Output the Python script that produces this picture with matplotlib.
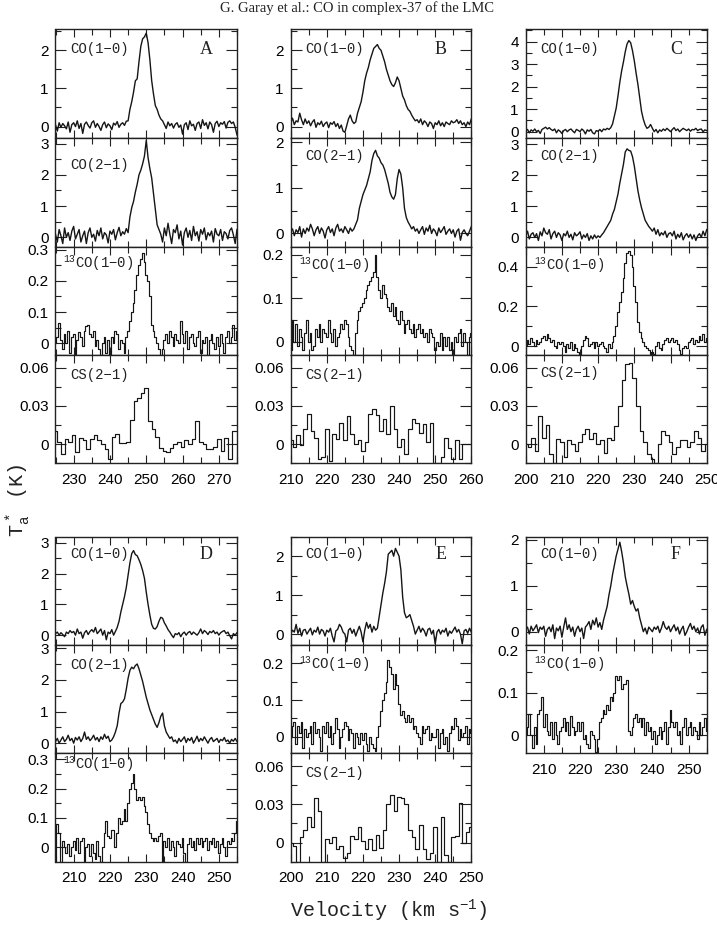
import numpy as np
import matplotlib
matplotlib.use("Agg")
import matplotlib.pyplot as plt
from matplotlib.ticker import MultipleLocator, FuncFormatter

plt.rcParams['font.family'] = ['Liberation Sans', 'DejaVu Sans']
plt.rcParams['mathtext.default'] = 'regular'

# ---------------- data (T_a* in K, channels of fixed width) ----------------
# Source A  (v from 225 km/s)
a_co10 = [0.05, -0.12, 0.10, -0.02, 0.08, 0.02, -0.06, 0.12, -0.15, 0.05,
          0.10, 0.00, 0.15, -0.05, 0.08, -0.18, 0.06, 0.12, 0.03, -0.04,
          0.10, 0.15, -0.02, 0.08, 0.00, -0.10, 0.05, 0.12, -0.03, 0.07,
          0.02, -0.08, 0.09, 0.04, 0.13, -0.02, 0.06, 0.10, 0.03, 0.14,
          0.15, 0.45, 0.65, 0.90, 1.20, 1.25, 1.70, 2.10, 2.30, 2.35,
          2.45, 2.20, 1.75, 1.20, 0.85, 0.55, 0.45, 0.30, 0.20, 0.15,
          0.05, -0.05, 0.12, 0.02, 0.08, -0.04, 0.06, 0.10, -0.02, 0.04,
          -0.20, 0.05, 0.10, -0.08, 0.15, 0.02, 0.06, -0.10, 0.08, 0.12,
          -0.05, 0.18, 0.03, 0.10, -0.06, 0.12, 0.05, -0.15, 0.08, 0.14,
          0.00, 0.10, 0.06, 0.13, -0.04, 0.11, 0.15, 0.08, 0.12, -0.02, -0.22]
a_co21 = [0.10, -0.15, 0.25, 0.05, -0.20, 0.30, 0.00, 0.15, -0.10, 0.20,
          0.35, -0.05, 0.10, 0.25, -0.15, 0.05, 0.20, -0.20, 0.15, 0.30,
          0.00, 0.10, -0.12, 0.22, 0.05, 0.30, -0.05, 0.15, 0.08, -0.18,
          0.20, 0.10, 0.25, -0.08, 0.15, 0.32, 0.05, 0.18, 0.10, 0.28,
          0.15, 0.65, 0.95, 1.15, 1.45, 1.70, 2.00, 2.15, 2.35, 2.60,
          3.10, 2.55, 2.20, 1.90, 1.40, 0.90, 0.40, 0.25, 0.10, -0.15,
          0.30, 0.05, 0.45, 0.10, -0.20, 0.25, 0.15, 0.40, -0.05, 0.20,
          -0.25, 0.15, 0.30, 0.00, 0.22, -0.10, 0.35, 0.05, 0.18, -0.12,
          0.25, 0.10, 0.30, -0.08, 0.15, 0.05, 0.20, -0.15, 0.28, 0.10,
          0.05, 0.25, -0.10, 0.18, 0.12, -0.05, 0.22, 0.30, 0.08, -0.20, 0.25]
a_13co = [0.00, 0.02, 0.065, 0.01, -0.02, 0.03, 0.00, 0.04, -0.03, 0.02,
          0.03, -0.04, 0.01, 0.035, 0.02, -0.01, 0.04, 0.055, 0.06, 0.03,
          0.02, 0.04, -0.01, 0.01, -0.02, -0.04, 0.00, 0.02, -0.03, 0.01,
          -0.04, 0.02, 0.00, 0.04, 0.03, -0.02, 0.01, 0.00, -0.03, 0.02,
          0.04, 0.07, 0.10, 0.13, 0.17, 0.22, 0.25, 0.27, 0.29, 0.26,
          0.22, 0.20, 0.15, 0.06, 0.04, 0.02, 0.00, -0.02, -0.04, -0.02,
          0.01, 0.03, 0.00, 0.04, 0.02, -0.01, 0.03, 0.01, 0.00, 0.07,
          0.03, 0.00, 0.04, -0.02, 0.02, 0.03, 0.00, -0.01, 0.02, 0.04,
          -0.03, 0.01, 0.00, 0.02, -0.04, 0.01, 0.03, 0.00, -0.02, 0.02,
          -0.01, 0.03, 0.00, -0.03, 0.02, 0.04, 0.00, 0.02, 0.06, 0.01, 0.04]
a_cs = [0.010, 0.002, -0.008, 0.004, 0.002, 0.007, -0.006, 0.005, 0.003, -0.004,
        0.004, 0.007, 0.003, 0.000, -0.004, -0.012, 0.006, 0.008, 0.001, 0.001,
        0.002, 0.019, 0.034, 0.036, 0.040, 0.044, 0.018, 0.012, 0.006, -0.003,
        -0.005, -0.006, -0.003, 0.000, 0.002, -0.002, 0.003, 0.000, 0.004, 0.018,
        0.002, 0.000, -0.004, -0.004, -0.002, 0.004, -0.005, 0.005, -0.012, 0.010, 0.010]

# Source B  (v from 210 km/s)
b_co10 = [0.10, 0.22, 0.05, 0.15, 0.12, 0.35, 0.18, 0.05, 0.20, 0.08,
          0.15, 0.02, 0.12, 0.18, -0.02, 0.10, 0.05, 0.14, 0.00, 0.08,
          0.12, -0.03, 0.10, 0.06, 0.13, 0.00, 0.08, -0.05, 0.04, -0.12,
          -0.15, 0.02, 0.20, 0.30, 0.15, 0.08, 0.12, 0.35, 0.50, 0.65,
          0.90, 1.20, 1.40, 1.55, 1.75, 1.90, 2.05, 2.10, 2.15, 2.05,
          2.00, 1.85, 1.70, 1.50, 1.35, 1.20, 1.10, 1.05, 1.15, 1.30,
          1.20, 1.00, 0.80, 0.70, 0.55, 0.45, 0.40, 0.30, 0.22, 0.15,
          0.18, 0.10, 0.20, 0.05, 0.15, 0.10, 0.00, 0.12, 0.08, -0.05,
          0.10, 0.05, 0.15, 0.02, 0.10, 0.00, 0.12, 0.08, 0.05, 0.15,
          0.10, 0.12, 0.18, 0.08, 0.15, 0.05, 0.10, 0.00, 0.12, 0.05, 0.20]
b_co21 = [0.05, 0.10, -0.05, 0.08, 0.02, 0.15, -0.08, 0.10, 0.00, 0.12,
          0.05, 0.20, 0.10, -0.05, 0.08, 0.15, 0.00, 0.12, 0.05, -0.10,
          0.08, 0.15, 0.02, 0.10, -0.05, 0.12, 0.20, 0.05, 0.10, 0.02,
          0.15, 0.08, 0.00, 0.12, 0.05, 0.10, 0.20, 0.30, 0.55, 0.70,
          0.85, 0.95, 1.05, 1.20, 1.35, 1.60, 1.75, 1.82, 1.70, 1.65,
          1.55, 1.50, 1.40, 1.25, 1.10, 0.90, 0.80, 0.75, 0.85, 1.20,
          1.40, 1.30, 1.00, 0.55, 0.35, 0.25, 0.18, 0.10, 0.15, 0.05,
          0.10, 0.00, 0.08, 0.15, -0.02, 0.12, 0.05, 0.18, 0.00, 0.10,
          0.05, -0.05, 0.12, 0.02, 0.08, 0.15, -0.02, 0.05, 0.10, 0.00,
          0.08, -0.08, 0.05, 0.10, -0.15, 0.02, 0.08, 0.00, -0.05, 0.05, 0.15]
b_13co = [-0.02, 0.05, 0.00, 0.04, -0.01, 0.03, 0.01, -0.02, 0.02, 0.05,
          0.00, 0.02, -0.02, -0.01, 0.03, 0.01, 0.04, 0.00, 0.03, 0.02,
          0.01, 0.05, 0.02, 0.00, 0.03, -0.01, 0.01, 0.02, 0.04, 0.03,
          0.05, 0.04, 0.01, -0.01, -0.02, -0.03, 0.02, 0.05, 0.07, 0.08,
          0.09, 0.10, 0.12, 0.13, 0.14, 0.15, 0.16, 0.20, 0.15, 0.12,
          0.10, 0.13, 0.11, 0.10, 0.08, 0.07, 0.09, 0.06, 0.08, 0.05,
          0.04, 0.07, 0.05, 0.02, 0.04, 0.05, 0.03, 0.02, 0.04, 0.01,
          0.03, 0.04, 0.02, 0.03, 0.01, 0.02, 0.00, 0.03, 0.02, 0.01,
          -0.02, 0.00, -0.01, 0.02, -0.02, 0.01, -0.01, 0.01, -0.02, 0.00,
          -0.03, 0.01, 0.00, 0.02, 0.03, -0.01, 0.02, 0.00, -0.03, 0.01, 0.02]
b_cs = [0.003, -0.002, 0.007, -0.001, 0.012, 0.024, 0.010, 0.005, -0.012, -0.010,
        0.012, -0.013, 0.008, 0.004, 0.017, 0.003, 0.022, 0.008, 0.000, 0.003,
        -0.005, 0.002, 0.024, 0.028, 0.023, 0.010, 0.020, 0.008, 0.030, 0.012,
        -0.002, 0.004, -0.008, 0.012, 0.020, 0.017, 0.009, 0.016, 0.002, 0.017,
        -0.015, -0.015, -0.010, 0.005, -0.003, -0.012, 0.003, -0.012, 0.000, 0.000, 0.000]

# Source C  (v from 200 km/s)
c_co10 = [0.05, 0.10, -0.05, 0.08, 0.02, 0.12, 0.00, 0.06, -0.08, 0.10,
          0.15, 0.20, 0.12, 0.18, 0.10, 0.05, 0.12, -0.05, 0.08, 0.02,
          -0.08, 0.05, 0.10, 0.00, 0.08, 0.12, 0.03, -0.05, 0.10, 0.06,
          0.00, 0.12, 0.05, -0.10, 0.08, 0.02, 0.10, -0.05, -0.10, 0.05,
          0.02, 0.10, 0.00, 0.12, 0.08, 0.15, 0.10, 0.18, 0.35, 0.70,
          1.05, 1.60, 2.20, 2.70, 3.10, 3.55, 3.90, 4.05, 3.95, 3.60,
          3.15, 2.60, 2.10, 1.50, 0.90, 0.55, 0.30, 0.15, 0.20, 0.32,
          0.15, 0.00, 0.10, -0.05, 0.08, 0.02, 0.12, 0.05, 0.15, 0.08,
          0.00, 0.10, 0.18, 0.05, 0.12, 0.00, 0.08, 0.15, 0.10, 0.05,
          0.12, 0.02, 0.10, 0.08, 0.15, 0.05, 0.10, 0.12, 0.00, 0.08, 0.05]
c_co21 = [0.05, 0.20, -0.05, 0.10, 0.15, 0.00, 0.12, -0.10, 0.18, 0.05,
          0.30, 0.15, 0.10, 0.25, -0.05, 0.12, 0.20, 0.00, 0.15, 0.08,
          -0.10, 0.12, 0.05, 0.20, 0.00, 0.10, -0.08, 0.15, 0.05, 0.10,
          0.18, -0.05, 0.08, 0.00, 0.12, -0.10, 0.05, -0.05, 0.08, -0.02,
          0.05, 0.00, 0.08, 0.15, 0.25, 0.35, 0.45, 0.55, 0.75, 0.90,
          1.15, 1.40, 1.75, 2.05, 2.35, 2.75, 2.85, 2.80, 2.78, 2.60,
          2.30, 1.90, 1.50, 1.20, 0.95, 0.75, 0.55, 0.45, 0.35, 0.28,
          0.20, 0.30, 0.10, 0.25, 0.05, 0.15, 0.08, 0.20, 0.00, 0.12,
          0.15, 0.05, 0.20, -0.05, 0.10, 0.00, 0.15, -0.08, 0.05, 0.12,
          0.00, 0.10, -0.05, 0.08, -0.10, 0.05, 0.12, 0.00, 0.20, 0.05, 0.25]
c_13co = [0.00, 0.03, 0.01, 0.04, 0.02, 0.00, 0.03, 0.01, 0.02, 0.04,
          0.05, 0.03, 0.06, 0.04, 0.02, 0.03, 0.00, -0.01, 0.02, 0.01,
          0.02, 0.00, -0.03, 0.01, -0.01, 0.02, -0.02, 0.01, -0.01, -0.03,
          -0.04, 0.00, 0.03, 0.05, 0.04, 0.00, 0.01, 0.02, -0.01, 0.02,
          0.00, 0.01, 0.02, 0.00, -0.01, -0.03, 0.01, -0.01, 0.02, 0.05,
          0.10, 0.17, 0.22, 0.27, 0.34, 0.42, 0.47, 0.48, 0.46, 0.40,
          0.30, 0.22, 0.12, 0.07, 0.04, 0.02, 0.00, -0.01, -0.02, -0.04,
          -0.03, -0.04, 0.00, 0.02, -0.01, -0.02, 0.01, 0.03, 0.04, 0.02,
          0.03, 0.04, 0.02, 0.03, 0.01, -0.02, -0.04, -0.01, 0.00, -0.01,
          0.02, 0.03, 0.04, 0.01, 0.03, 0.02, 0.05, 0.03, 0.06, 0.02, 0.04]
c_cs = [0.000, -0.002, 0.005, -0.005, 0.022, 0.005, 0.015, -0.008, -0.015, 0.004,
        0.002, -0.010, 0.003, 0.000, -0.005, 0.002, 0.008, 0.012, 0.004, 0.009,
        0.000, 0.003, -0.007, 0.005, 0.003, 0.014, 0.030, 0.050, 0.063, 0.064,
        0.052, 0.030, 0.010, 0.002, -0.008, -0.012, -0.015, 0.000, 0.010, 0.007,
        0.002, -0.008, -0.002, 0.003, 0.003, -0.002, 0.002, 0.010, 0.005, -0.005, 0.000]

# Source D  (v from 205 km/s)
d_co10 = [0.05, 0.10, 0.00, 0.08, 0.02, -0.05, 0.10, 0.05, 0.15, 0.08,
          0.12, 0.00, 0.20, 0.05, 0.10, -0.10, 0.08, 0.15, 0.02, 0.12,
          0.18, 0.10, 0.25, 0.05, 0.12, 0.20, 0.00, 0.15, -0.15, 0.10,
          0.05, 0.18, 0.00, 0.12, 0.25, 0.45, 0.75, 1.00, 1.25, 1.55,
          1.95, 2.35, 2.65, 2.75, 2.62, 2.58, 2.45, 2.30, 2.10, 1.85,
          1.40, 1.00, 0.65, 0.35, 0.22, 0.20, 0.28, 0.45, 0.58, 0.55,
          0.40, 0.30, 0.18, 0.10, 0.00, -0.08, 0.05, 0.02, 0.08, -0.05,
          0.05, 0.10, 0.00, 0.08, 0.12, 0.02, 0.10, 0.05, 0.00, 0.08,
          0.20, 0.05, 0.15, 0.10, 0.02, 0.12, 0.08, 0.15, 0.05, 0.10,
          0.00, 0.08, 0.12, 0.15, 0.05, 0.10, -0.02, -0.12, 0.05, 0.00, 0.08]
d_co21 = [0.05, 0.15, 0.00, 0.10, 0.20, 0.05, 0.12, 0.25, 0.08, 0.15,
          0.00, 0.18, 0.10, 0.20, 0.05, 0.15, 0.35, 0.12, 0.20, 0.08,
          0.15, 0.25, 0.10, 0.18, 0.05, 0.20, 0.12, 0.28, 0.15, 0.22,
          0.05, 0.10, 0.20, 0.35, 0.55, 0.95, 1.25, 1.30, 1.40, 1.70,
          2.05, 2.30, 2.40, 2.35, 2.45, 2.50, 2.35, 2.15, 1.95, 1.70,
          1.45, 1.25, 1.05, 0.90, 0.75, 0.60, 0.50, 0.65, 0.85, 0.95,
          0.55, 0.35, 0.25, 0.15, 0.20, 0.05, 0.10, 0.00, 0.15, 0.05,
          0.12, 0.20, 0.02, 0.15, 0.08, 0.18, 0.00, 0.10, 0.22, 0.05,
          0.15, 0.08, 0.20, 0.10, 0.00, 0.12, 0.18, 0.05, 0.10, 0.15,
          0.02, 0.12, 0.08, 0.18, 0.05, 0.10, 0.00, 0.12, 0.06, 0.15, 0.05]
d_13co = [-0.05, 0.08, 0.05, -0.05, 0.02, 0.00, -0.02, 0.01, -0.03, 0.00,
          0.02, -0.01, 0.03, -0.02, 0.02, 0.03, -0.05, 0.00, 0.01, -0.03,
          0.01, -0.02, -0.04, 0.02, -0.03, -0.05, 0.00, 0.05, 0.09, 0.04,
          0.03, 0.06, 0.06, 0.00, 0.05, 0.10, 0.08, 0.09, 0.13, 0.09,
          0.15, 0.20, 0.22, 0.25, 0.20, 0.16, 0.17, 0.16, 0.17, 0.14,
          0.12, 0.08, 0.05, 0.03, 0.02, 0.03, 0.02, 0.04, 0.05, -0.05,
          0.02, 0.00, 0.03, -0.01, 0.02, 0.00, -0.03, 0.02, 0.01, 0.00,
          0.03, -0.02, -0.05, 0.01, 0.03, 0.00, 0.02, -0.01, 0.03, 0.01,
          0.03, 0.00, 0.02, 0.03, -0.01, 0.02, 0.01, 0.03, 0.00, 0.02,
          -0.02, 0.01, 0.03, 0.00, -0.03, 0.02, 0.01, 0.03, 0.02, 0.05, 0.09]

# Source E  (v from 200 km/s)
e_co10 = [0.00, 0.10, 0.05, 0.25, 0.02, 0.15, -0.05, 0.10, 0.12, 0.00,
          0.08, 0.15, -0.02, 0.10, 0.05, 0.18, 0.00, 0.12, 0.08, -0.05,
          0.10, 0.05, 0.15, -0.05, -0.20, 0.08, 0.12, 0.25, 0.18, 0.05,
          0.00, -0.20, 0.10, 0.15, 0.02, 0.12, -0.05, 0.08, 0.20, 0.05,
          -0.20, 0.10, 0.30, 0.15, 0.25, 0.05, 0.20, 0.10, 0.15, 0.45,
          0.75, 1.05, 1.30, 1.60, 2.05, 2.10, 2.15, 2.00, 2.20, 2.10,
          2.00, 1.65, 0.95, 0.55, 0.42, 0.45, 0.50, 0.35, 0.20, 0.00,
          0.10, 0.20, 0.05, 0.15, 0.08, -0.05, 0.12, 0.15, 0.00, 0.10,
          -0.25, 0.05, 0.12, 0.00, 0.10, 0.05, 0.15, -0.05, 0.08, 0.02,
          0.10, 0.18, 0.05, 0.12, 0.00, -0.25, 0.08, 0.12, 0.02, 0.15, 0.05]
e_13co = [0.00, 0.03, 0.04, -0.02, 0.03, 0.01, 0.04, -0.03, 0.02, 0.00,
          0.01, 0.03, -0.02, 0.04, 0.01, 0.02, 0.00, -0.04, 0.03, 0.01,
          0.04, 0.00, 0.03, -0.02, 0.01, 0.05, 0.02, -0.03, 0.00, 0.02,
          0.04, 0.03, -0.01, 0.02, 0.01, -0.03, 0.01, 0.00, -0.02, 0.01,
          -0.01, 0.01, -0.02, -0.04, 0.00, -0.02, -0.03, -0.04, 0.00, 0.03,
          0.07, 0.10, 0.12, 0.15, 0.21, 0.19, 0.17, 0.13, 0.17, 0.14,
          0.09, 0.06, 0.07, 0.05, 0.04, 0.06, 0.04, 0.05, 0.02, 0.03,
          0.01, 0.00, -0.02, 0.03, 0.01, 0.02, 0.03, -0.01, 0.01, 0.00,
          0.00, 0.02, -0.03, 0.01, 0.02, -0.02, 0.00, -0.04, 0.01, 0.03,
          0.02, 0.05, 0.03, -0.01, 0.02, 0.00, 0.01, 0.03, -0.02, 0.02, 0.01]
e_cs = [0.000, -0.003, -0.015, 0.004, 0.010, 0.020, 0.012, 0.035, 0.025, -0.015,
        0.003, 0.000, 0.004, -0.005, -0.003, -0.012, -0.008, 0.005, 0.003, 0.012,
        0.001, -0.005, 0.003, -0.006, 0.006, -0.004, 0.010, 0.030, 0.037, 0.025,
        0.036, 0.035, 0.030, 0.010, 0.004, -0.005, 0.014, -0.005, -0.013, -0.008,
        0.012, -0.015, 0.020, -0.010, -0.015, 0.004, 0.005, 0.031, 0.000, 0.008, 0.012]

# Source F  (v from 205 km/s)
f_co10 = [0.05, 0.10, -0.05, 0.12, 0.02, 0.08, 0.15, -0.02, 0.10, 0.05,
          0.12, -0.10, 0.05, 0.10, 0.00, 0.15, -0.15, 0.08, 0.02, 0.12,
          -0.12, 0.10, 0.30, 0.05, 0.15, 0.00, 0.10, -0.10, 0.05, 0.12,
          0.00, 0.08, -0.15, 0.10, 0.15, 0.22, 0.05, 0.25, 0.15, 0.30,
          0.10, 0.20, 0.05, 0.25, 0.40, 0.55, 0.80, 1.00, 1.25, 1.45,
          1.65, 1.80, 1.95, 1.75, 1.50, 1.20, 1.00, 0.82, 0.60, 0.68,
          0.55, 0.45, 0.50, 0.30, 0.15, 0.00, 0.08, -0.05, 0.10, 0.05,
          0.00, 0.10, 0.05, 0.12, -0.02, 0.08, 0.22, 0.10, 0.05, 0.12,
          0.00, 0.08, 0.15, 0.02, 0.10, -0.05, 0.05, 0.12, -0.08, 0.00,
          0.10, 0.18, 0.05, 0.12, 0.00, 0.08, -0.05, 0.10, 0.15, -0.08, 0.05]
f_13co = [0.00, 0.02, 0.05, 0.00, -0.03, 0.02, -0.02, 0.05, 0.06, 0.09,
          0.02, 0.05, 0.01, 0.00, 0.03, -0.01, 0.03, 0.00, -0.02, 0.01,
          0.02, 0.04, 0.01, 0.03, 0.00, 0.045, 0.02, 0.00, 0.01, 0.03,
          0.01, 0.03, -0.01, 0.00, -0.02, -0.03, 0.01, 0.00, -0.01, -0.04,
          -0.01, 0.03, 0.04, 0.06, 0.05, 0.07, 0.06, 0.09, 0.08, 0.10,
          0.14, 0.13, 0.14, 0.11, 0.12, 0.12, 0.13, 0.01, 0.00, 0.02,
          0.04, 0.05, 0.03, 0.04, 0.02, 0.04, 0.00, 0.03, 0.01, 0.02,
          -0.01, 0.01, -0.02, 0.00, 0.02, -0.01, 0.01, 0.03, -0.02, 0.02,
          0.06, 0.03, 0.02, 0.03, 0.00, 0.01, -0.02, 0.02, 0.04, 0.00,
          0.02, 0.03, 0.00, 0.02, 0.01, -0.01, 0.03, 0.00, 0.02, 0.04, 0.01]

# ---------------- layout ----------------
W, H = 717, 931
fig = plt.figure(figsize=(W / 100, H / 100), dpi=100)

COLS = [(55.5, 237.0), (290.7, 471.3), (525.7, 706.7)]
TOP = [29.3, 138.0, 246.7, 355.0, 463.3]
BOT = [536.7, 645.0, 753.3, 861.7]

MONO = ['Liberation Mono', 'DejaVu Sans Mono']
SERIF = ['Liberation Serif', 'DejaVu Serif']

L10 = 'CO(1\u22120)'
L21 = 'CO(2\u22121)'
L13 = '$^{13}$CO(1\u22120)'
LCS = 'CS(2\u22121)'

# (col, rows, row index, v0, step, values, xlim, ylim, ymajor, yminor, label, label_y, letter, xlabels)
panels = [
    (0, TOP, 0, 225, 0.5, a_co10, (225, 275), (-0.3, 2.55), 1, 0.5, L10, 0.816, 'A', False),
    (0, TOP, 1, 225, 0.5, a_co21, (225, 275), (-0.3, 3.18), 1, 0.5, L21, 0.75, None, False),
    (0, TOP, 2, 225, 0.5, a_13co, (225, 275), (-0.038, 0.31), 0.1, 0.05, L13, 0.85, None, False),
    (0, TOP, 3, 225, 1.0, a_cs, (225, 275), (-0.015, 0.07), 0.03, 0.015, LCS, 0.815, None, True),
    (1, TOP, 0, 210, 0.5, b_co10, (210, 260), (-0.3, 2.55), 1, 0.5, L10, 0.816, 'B', False),
    (1, TOP, 1, 210, 0.5, b_co21, (210, 260), (-0.29, 2.09), 1, 0.5, L21, 0.83, None, False),
    (1, TOP, 2, 210, 0.5, b_13co, (210, 260), (-0.031, 0.219), 0.1, 0.05, L13, 0.83, None, False),
    (1, TOP, 3, 210, 1.0, b_cs, (210, 260), (-0.015, 0.07), 0.03, 0.015, LCS, 0.815, None, True),
    (2, TOP, 0, 200, 0.5, c_co10, (200, 250), (-0.28, 4.55), 1, 0.5, L10, 0.816, 'C', False),
    (2, TOP, 1, 200, 0.5, c_co21, (200, 250), (-0.3, 3.2), 1, 0.5, L21, 0.83, None, False),
    (2, TOP, 2, 200, 0.5, c_13co, (200, 250), (-0.045, 0.5), 0.2, 0.1, L13, 0.83, None, False),
    (2, TOP, 3, 200, 1.0, c_cs, (200, 250), (-0.015, 0.07), 0.03, 0.015, LCS, 0.83, None, True),
    (0, BOT, 0, 205, 0.5, d_co10, (205, 255), (-0.32, 3.2), 1, 0.5, L10, 0.837, 'D', False),
    (0, BOT, 1, 205, 0.5, d_co21, (205, 255), (-0.32, 3.1), 1, 0.5, L21, 0.815, None, False),
    (0, BOT, 2, 205, 0.5, d_13co, (205, 255), (-0.049, 0.32), 0.1, 0.05, L13, 0.9, None, True),
    (1, BOT, 0, 200, 0.5, e_co10, (200, 250), (-0.28, 2.5), 1, 0.5, L10, 0.837, 'E', False),
    (1, BOT, 1, 200, 0.5, e_13co, (200, 250), (-0.045, 0.25), 0.1, 0.05, L13, 0.826, None, False),
    (1, BOT, 2, 200, 1.0, e_cs, (200, 250), (-0.015, 0.07), 0.03, 0.015, LCS, 0.815, None, True),
    (2, BOT, 0, 205, 0.5, f_co10, (205, 255), (-0.29, 2.07), 1, 0.5, L10, 0.837, 'F', False),
    (2, BOT, 1, 205, 0.5, f_13co, (205, 255), (-0.043, 0.213), 0.1, 0.05, L13, 0.826, None, True),
]

fmt = FuncFormatter(lambda v, p: '{:g}'.format(round(v, 6)))

for (col, rows, r, v0, step, vals, xlim, ylim, ymaj, ymin, lab, laby, letter, xl) in panels:
    l, rr = COLS[col]
    t, b = rows[r], rows[r + 1]
    ax = fig.add_axes([l / W, 1 - b / H, (rr - l) / W, (b - t) / H])
    y = np.asarray(vals, dtype=float)
    v = v0 + step * np.arange(len(y))
    if lab in (L10, L21):
        ax.plot(v, y, color='#151515', lw=1.0)
    else:
        ax.plot(v, y, drawstyle='steps-mid', color='#151515', lw=0.85)
    ax.set_xlim(*xlim)
    ax.set_ylim(*ylim)
    ax.xaxis.set_major_locator(MultipleLocator(10))
    ax.xaxis.set_minor_locator(MultipleLocator(5))
    ax.yaxis.set_major_locator(MultipleLocator(ymaj))
    ax.yaxis.set_minor_locator(MultipleLocator(ymin))
    ax.yaxis.set_major_formatter(fmt)
    ax.xaxis.set_major_formatter(fmt)
    ax.tick_params(which='both', direction='in', top=True, right=True,
                   labelsize=11, color='#222222')
    ax.tick_params(axis='x', which='major', length=6, width=0.8, pad=7)
    ax.tick_params(axis='x', which='minor', length=4.5, width=0.8)
    ax.tick_params(axis='y', which='major', length=8, width=0.8, pad=5)
    ax.tick_params(axis='y', which='minor', length=4.5, width=0.8)
    ax.tick_params(labelbottom=xl)
    for s in ax.spines.values():
        s.set_linewidth(1.0)
        s.set_color('#222222')
    xoff = 8 if lab == L13 else 15
    ax.text(xoff / (rr - l), laby, lab, transform=ax.transAxes, ha='left',
            va='center', family=MONO, fontsize=10, color='#222222')
    if letter:
        ax.text(0.83, laby, letter, transform=ax.transAxes, ha='center',
                va='center', family=SERIF, fontsize=13, color='#222222')

fig.text(357 / W, 1 - 8 / H, 'G. Garay et al.: CO in complex-37 of the LMC',
         ha='center', va='center', family=SERIF, fontsize=10.5, color='#222222')
fig.text(389 / W, 1 - 911 / H, 'Velocity (km s$^{-1}$)', ha='center',
         va='center', family=MONO, fontsize=14.5, color='#222222')
fig.text(18 / W, 1 - 500 / H, 'T$_a^*$ (K)', ha='center', va='center',
         rotation=90, family=MONO, fontsize=14.5, color='#222222')

fig.savefig('out.png', dpi=100)
